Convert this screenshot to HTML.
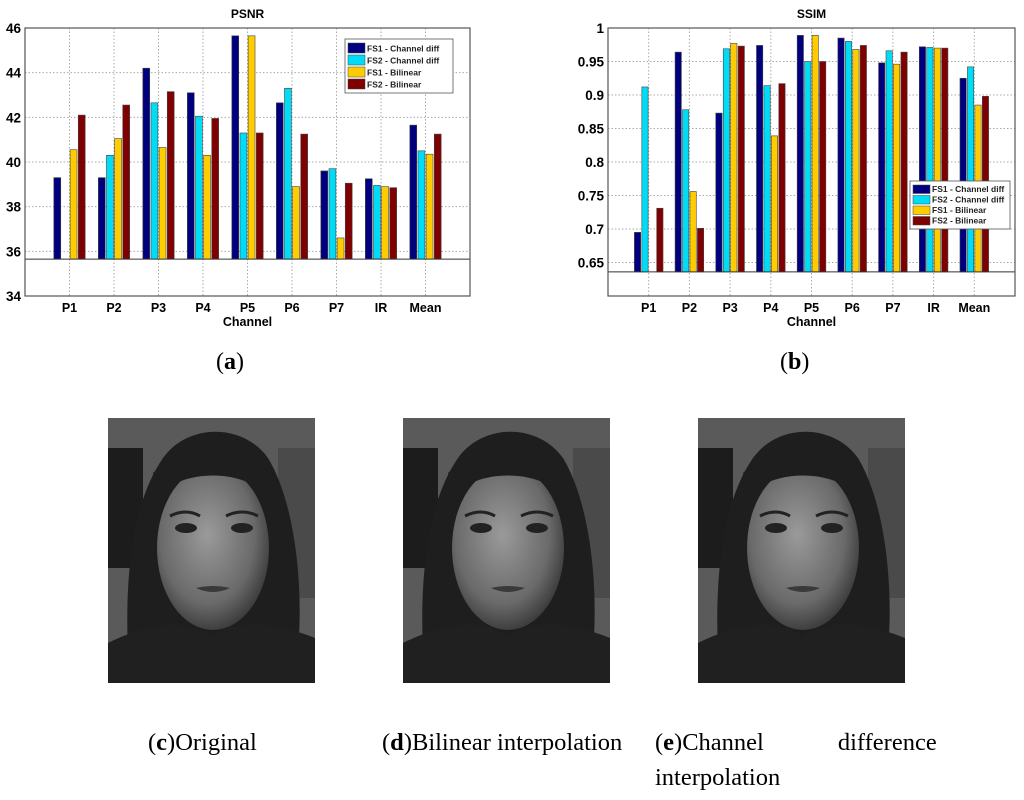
<!DOCTYPE html>
<html><head><meta charset="utf-8">
<style>
body{margin:0;background:#fff;width:1024px;height:800px;overflow:hidden;font-family:"Liberation Sans",sans-serif}
.cap{position:absolute;font-family:"Liberation Serif",serif;font-size:24px;color:#000}
</style></head>
<body>
<svg id="fig" width="1024" height="800" style="position:absolute;left:0;top:0" xmlns="http://www.w3.org/2000/svg">
<defs>
<radialGradient id="faceg" cx="0.45" cy="0.42" r="0.6"><stop offset="0" stop-color="#9a9a9a"/><stop offset="0.7" stop-color="#6a6a6a"/><stop offset="1" stop-color="#3a3a3a"/></radialGradient>
</defs>
<g id="psnr"></g>
<g id="ssim"></g>
<g id="faces"></g>
</svg>
<div class="cap" style="left:216px;top:349px">(<b>a</b>)</div>
<div class="cap" style="left:780px;top:349px">(<b>b</b>)</div>
<div class="cap" style="left:148px;top:729px;font-size:24.5px">(<b>c</b>)Original</div>
<div class="cap" style="left:382px;top:729px;font-size:24.5px">(<b>d</b>)Bilinear interpolation</div>
<div class="cap" style="left:655px;top:729px;font-size:24.5px">(<b>e</b>)Channel<span style="margin-left:74px">difference</span></div>
<div class="cap" style="left:655px;top:764px;font-size:24.5px">interpolation</div>
<script>
const categories=["P1","P2","P3","P4","P5","P6","P7","IR","Mean"];
const seriesNames=["FS1 - Channel diff","FS2 - Channel diff","FS1 - Bilinear","FS2 - Bilinear"];
const colors=["#00007f","#00dcf5","#ffcc00","#7f0000"];
const psnrFS1CD=[39.3,39.3,44.2,43.1,45.65,42.65,39.6,39.25,41.65];
const psnrFS2CD=[35.65,40.3,42.65,42.05,41.3,43.3,39.7,38.95,40.5];
const psnrFS1BL=[40.55,41.05,40.65,40.3,45.65,38.9,36.6,38.9,40.35];
const psnrFS2BL=[42.1,42.55,43.15,41.95,41.3,41.25,39.05,38.85,41.25];
const psnrTicks=[34,36,38,40,42,44,46];
const ssimFS1CD=[0.695,0.964,0.873,0.974,0.989,0.985,0.948,0.972,0.925];
const ssimFS2CD=[0.912,0.878,0.969,0.914,0.950,0.980,0.966,0.971,0.942];
const ssimFS1BL=[0.636,0.756,0.977,0.839,0.989,0.968,0.946,0.970,0.885];
const ssimFS2BL=[0.731,0.701,0.973,0.917,0.950,0.974,0.964,0.970,0.898];
const ssimTicks=[0.65,0.7,0.75,0.8,0.85,0.9,0.95,1];
const ssimTickLabels=["0.65","0.7","0.75","0.8","0.85","0.9","0.95","1"];
const NS="http://www.w3.org/2000/svg";
function mk(p,t,a,txt){const e=document.createElementNS(NS,t);for(const k in a)e.setAttribute(k,a[k]);if(txt!==undefined)e.textContent=txt;p.appendChild(e);return e;}
function chart(g,o){
 const X=v=>o.x0+(o.x1-o.x0)*v/10;
 const Y=v=>o.y1-(o.y1-o.y0)*(v-o.ymin)/(o.ymax-o.ymin);
 mk(g,"rect",{x:o.x0,y:o.y0,width:o.x1-o.x0,height:o.y1-o.y0,fill:"#fff",stroke:"none"});
 o.ticks.forEach((t,i)=>{
  const l=mk(g,"line",{x1:o.x0,x2:o.x1,y1:Y(t),y2:Y(t),stroke:"#aaa","stroke-dasharray":"1.5 2","stroke-width":1});
  
  
  const tx=mk(g,"text",{x:o.x0-4,y:Y(t)+5,"text-anchor":"end","font-size":13.5,"font-weight":"bold"},o.labels[i]);
  
  
 });
 categories.forEach((c,i)=>{
  const l=mk(g,"line",{x1:X(i+1),x2:X(i+1),y1:o.y0,y2:o.y1,stroke:"#aaa","stroke-dasharray":"1.5 2","stroke-width":1});
  
  
  const tx=mk(g,"text",{x:X(i+1),y:o.y1+16,"text-anchor":"middle","font-size":12.5,"font-weight":"bold"},c);
  
  
 });
 const bw=(o.x1-o.x0)/10*0.155, off=[-1.5,-0.5,0.5,1.5];
 o.series.forEach((s,si)=>{
  s.forEach((v,i)=>{
   const top=Math.min(Y(v),Y(o.base)), h=Math.abs(Y(o.base)-Y(v));
   if(h<0.5) return;
   const r=mk(g,"rect",{x:X(i+1)+off[si]*bw*1.18-bw/2,y:top,width:bw,height:h,fill:colors[si],stroke:"#444","stroke-width":0.6});
   
   
  });
 });
 const bl=mk(g,"line",{x1:o.x0,x2:o.x1,y1:Y(o.base),y2:Y(o.base),stroke:"#333","stroke-width":1});
 
 
 const fr=mk(g,"rect",{x:o.x0,y:o.y0,width:o.x1-o.x0,height:o.y1-o.y0,fill:"none",stroke:"#555","stroke-width":1.2});
 
 
 const ti=mk(g,"text",{x:(o.x0+o.x1)/2,y:o.y0-10,"text-anchor":"middle","font-size":12,"font-weight":"bold"},o.title);
 
 
 const xl=mk(g,"text",{x:(o.x0+o.x1)/2,y:o.y1+30,"text-anchor":"middle","font-size":12.5,"font-weight":"bold"},"Channel");
 
 
 const lg=mk(g,"g",{});
 
 
 mk(lg,"rect",{x:o.lx,y:o.ly,width:o.lw,height:o.lh,fill:"#fff",stroke:"#555","stroke-width":0.8});
 const rowh=(o.lh-6)/4;
 seriesNames.forEach((n,i)=>{
  const e=mk(lg,"g",{});
  
  
  mk(e,"rect",{x:o.lx+3,y:o.ly+3+i*rowh+1,width:17,height:rowh-2,fill:colors[i],stroke:"#444","stroke-width":0.5});
  mk(e,"text",{x:o.lx+22,y:o.ly+3+i*rowh+rowh-2.5,"font-size":8.5,"font-weight":"bold",fill:"#222"},n);
 });
}
chart(document.getElementById("psnr"),{x0:25,x1:470,y0:28,y1:296,ymin:34,ymax:46,base:35.65,ticks:psnrTicks,labels:psnrTicks.map(String),
 series:[psnrFS1CD,psnrFS2CD,psnrFS1BL,psnrFS2BL],title:"PSNR",lx:345,ly:39,lw:108,lh:54});
chart(document.getElementById("ssim"),{x0:608,x1:1015,y0:28,y1:296,ymin:0.6,ymax:1,base:0.636,ticks:ssimTicks,labels:ssimTickLabels,
 series:[ssimFS1CD,ssimFS2CD,ssimFS1BL,ssimFS2BL],title:"SSIM",lx:910,ly:181,lw:100,lh:48});
const fg=document.getElementById("faces");
[108,403,698].forEach((x,k)=>{
 const g=mk(fg,"g",{transform:"translate("+x+",418)"});
 
 
 mk(g,"rect",{x:0,y:0,width:207,height:265,fill:"#5a5a5a"});
 mk(g,"rect",{x:0,y:30,width:35,height:120,fill:"#1c1c1c"});
 mk(g,"rect",{x:170,y:30,width:37,height:150,fill:"#4a4a4a"});
 mk(g,"path",{d:"M22 265 C15 180 20 90 55 40 C80 5 135 5 160 40 C190 90 195 180 190 230 L207 250 L207 265 Z",fill:"#1e1e1e"});
 mk(g,"path",{d:"M0 225 C40 205 80 200 103 218 C130 200 170 205 207 220 L207 265 L0 265 Z",fill:"#202020"});
 mk(g,"ellipse",{cx:105,cy:130,rx:56,ry:82,fill:"url(#faceg)"});
 mk(g,"path",{d:"M45 55 C70 30 140 30 165 60 L160 80 C140 50 70 50 50 80 Z",fill:"#1e1e1e"});
 mk(g,"ellipse",{cx:78,cy:110,rx:11,ry:5,fill:"#222"});
 mk(g,"ellipse",{cx:134,cy:110,rx:11,ry:5,fill:"#222"});
 mk(g,"path",{d:"M62 98 Q78 90 92 98 M118 98 Q134 90 150 98",stroke:"#222","stroke-width":3,fill:"none"});
 mk(g,"path",{d:"M88 170 Q105 166 122 170 Q105 178 88 170 Z",fill:"#3a3a3a"});
});
</script>
</body></html>
